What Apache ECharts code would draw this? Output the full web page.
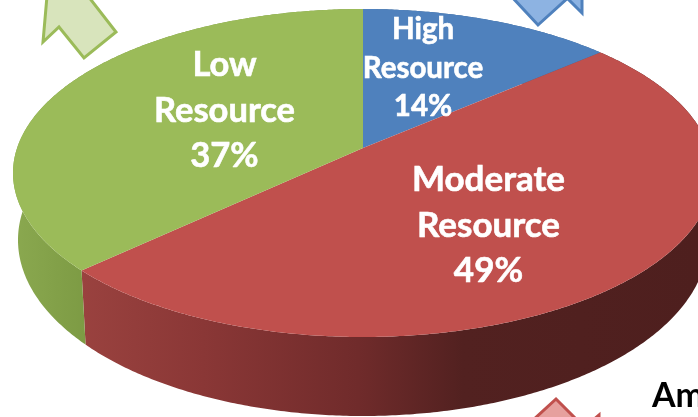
<!DOCTYPE html>
<html><head><meta charset="utf-8">
<style>html,body{margin:0;padding:0;background:#fff;overflow:hidden}#c{width:698px;height:417px}</style>
<script src="https://cdn.jsdelivr.net/npm/echarts@6/dist/echarts.min.js"></script>
</head><body><div id="c"></div>
<script>
var categories = ['High\nResource', 'Moderate\nResource', 'Low\nResource'];
var shares = [13.6, 49.4, 37];
var topColors = ['#4F81BD', '#C0504D', '#9BBB59'];

var top3d = {cx: 363, cy: 173, rx: 350, ry: 164};
var bottom3d = {cx: 363, cy: 240, rx: 345, ry: 176};
var pivotY = -0.152;
var labelCfg = [
  {x: 423, y: 68, size: 29.5, line: 38.5},
  {x: 488.5, y: 225.5, size: 35, line: 45.5},
  {x: 224.5, y: 110.5, size: 34.5, line: 45.5}
];

function project(e, deg) {
  var a = deg * Math.PI / 180, u = Math.sin(a), v = -Math.cos(a), d = 1 + pivotY * v;
  return [e.cx + e.rx * u * Math.sqrt(1 - pivotY * pivotY) / d, e.cy + e.ry * (v + pivotY) / d];
}
function arc(e, a0, a1) {
  var pts = [], n = Math.ceil(Math.abs(a1 - a0) * 2);
  for (var i = 0; i <= n; i++) pts.push(project(e, a0 + (a1 - a0) * i / n));
  return pts;
}
function span(i) {
  var total = shares.reduce(function (s, v) { return s + v; }, 0), start = 0;
  for (var k = 0; k < i; k++) start += shares[k];
  return [start / total * 360, (start + shares[i]) / total * 360];
}
var pivot = [top3d.cx, top3d.cy + top3d.ry * pivotY];
var G = echarts.graphic.LinearGradient;
var wallFill = [
  '#3a6494',
  new G(80, 0, 698, 0, [
    {offset: 0, color: '#9A423F'}, {offset: 0.2, color: '#8A3736'}, {offset: 0.45, color: '#702B2B'},
    {offset: 0.62, color: '#522120'}, {offset: 1, color: '#4E1F1E'}], true),
  new G(10, 0, 90, 0, [{offset: 0, color: '#8BA950'}, {offset: 1, color: '#7C9A43'}], true)
];

var chart = echarts.init(document.getElementById('c'), null, {renderer: 'canvas'});
function arrow(points, fill, stroke) {
  return {type: 'polygon', z: 1, shape: {points: points}, style: {fill: fill, stroke: stroke, lineWidth: 3, lineJoin: 'miter'}};
}
chart.setOption({
  animation: false,
  backgroundColor: '#fff',
  series: [{
    type: 'custom', coordinateSystem: 'none', z: 2, silent: true,
    data: shares,
    renderItem: function (p, api) {
      var i = p.dataIndex, s = span(i);
      var pts = arc(top3d, s[0], s[1]).concat(arc(bottom3d, s[1], s[0]));
      return {type: 'polygon', shape: {points: pts}, style: {fill: wallFill[i]}};
    }
  }, {
    type: 'custom', coordinateSystem: 'none', z: 3, silent: true,
    data: shares,
    renderItem: function (p, api) {
      var i = p.dataIndex, s = span(i);
      var pts = [pivot].concat(arc(top3d, s[0], s[1]));
      var c = labelCfg[i];
      return {type: 'group', children: [
        {type: 'polygon', shape: {points: pts}, style: {fill: topColors[i]}},
        {type: 'text', z2: 10, style: {
          text: categories[i] + '\n' + Math.round(shares[i]) + '%', x: c.x, y: c.y, align: 'center', verticalAlign: 'middle',
          font: 'bold ' + c.size + 'px Lato', lineHeight: c.line, fill: '#fff', stroke: '#fff', lineWidth: 0.6}}
      ]};
    }
  }],
  graphic: [
    arrow([[47,-4],[43,42],[59,27],[84,58],[116,32],[88,-4]], '#D8E4BC', '#9BBB59'),
    arrow([[511,-4],[538,25],[570,-4]], '#8DB3E2', '#4F81BD'),
    arrow([[565,-4],[582,13],[582,-4]], '#8DB3E2', '#4F81BD'),
    arrow([[532,421],[556,399],[578,421]], '#E6A09E', '#C0504D'),
    arrow([[592,421],[599,415],[599,421]], '#E6A09E', '#C0504D'),
    {type: 'text', z: 5, style: {text: 'Am', x: 652, y: 413, verticalAlign: 'bottom', font: 'bold 34px Lato', fill: '#000'}}
  ]
});
</script></body></html>
